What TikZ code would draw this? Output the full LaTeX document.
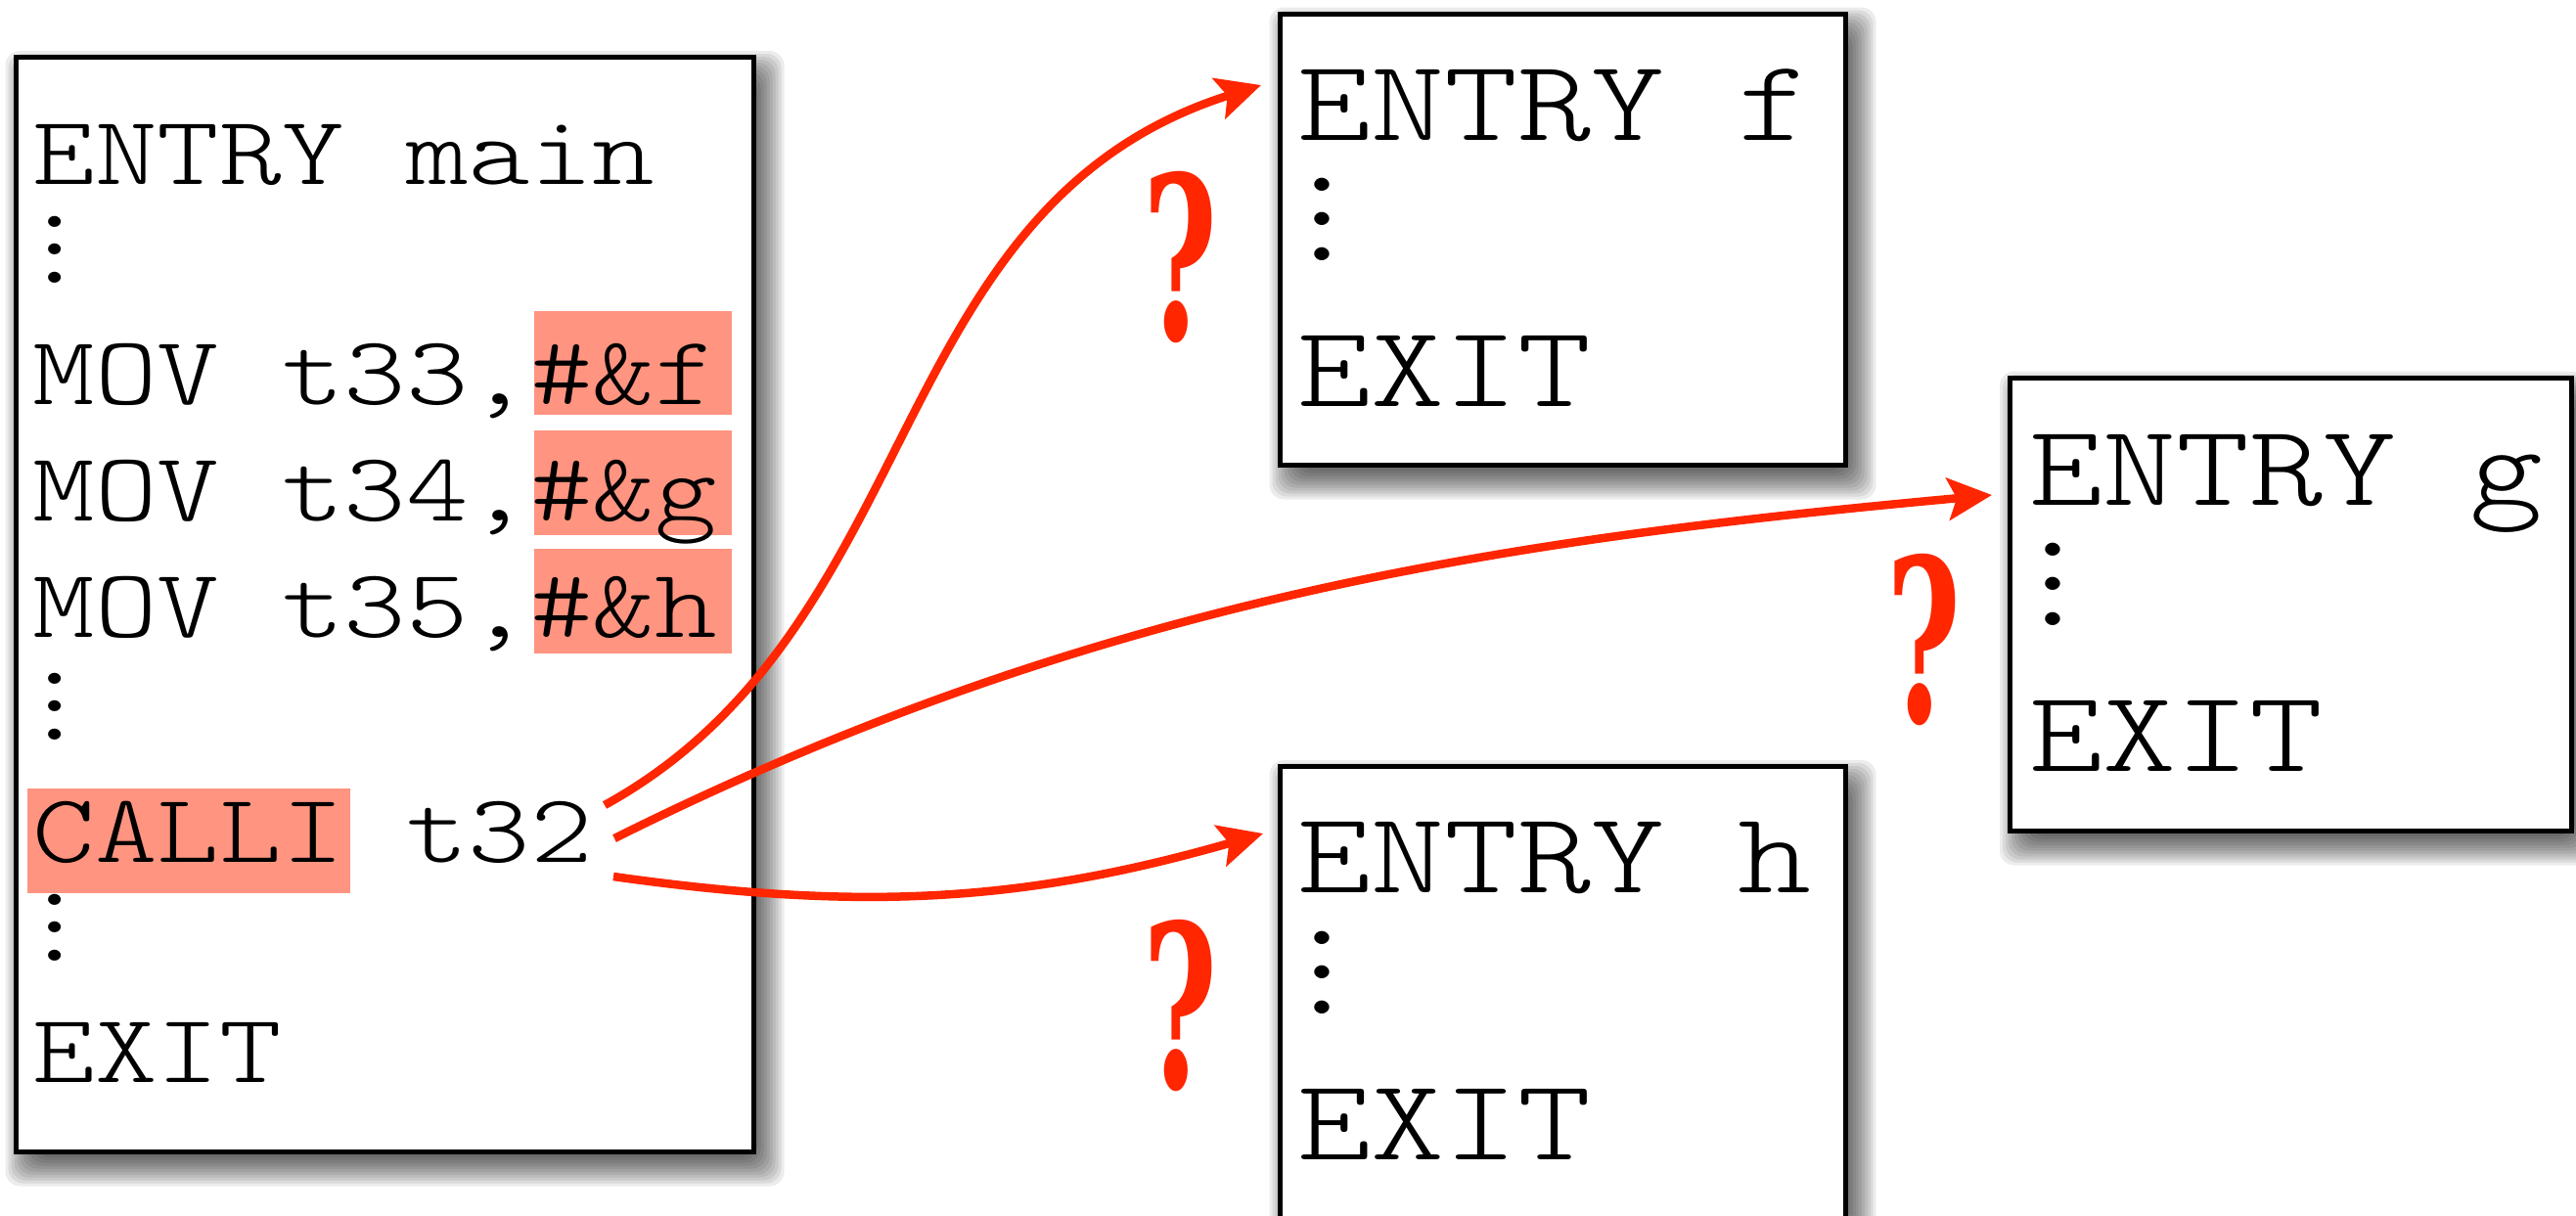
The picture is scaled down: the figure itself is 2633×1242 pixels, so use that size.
\documentclass[tikz,border=0pt]{standalone}
\usepackage{fontspec}
\newfontfamily\qfont{DejaVu Serif}
\usetikzlibrary{arrows.meta}
\definecolor{arrowred}{RGB}{255,38,0}
\definecolor{hlcol}{RGB}{255,148,128}
\newcommand\codefont[1]{\ttfamily\fontseries{l}\fontsize{#1}{#1}\selectfont}
\tikzset{
  codebox/.style={draw=black, fill=white, line width=0.05cm, inner sep=0pt, outer sep=0pt},
  codemain/.style={font=\codefont{28.45pt}, anchor=base west, inner sep=0pt, xscale=1.21},
  codesmall/.style={font=\codefont{33.57pt}, anchor=base west, inner sep=0pt, xscale=1.21},
  dotsmain/.style={font=\ttfamily\fontsize{28.45pt}{8.11pt}\selectfont, align=center, inner sep=0pt, anchor=center, xscale=1.15},
  dotssmall/.style={font=\ttfamily\fontsize{33.57pt}{10.1pt}\selectfont, align=center, inner sep=0pt, anchor=center, xscale=1.15},
  qmark/.style={font=\qfont\bfseries\fontsize{66pt}{66pt}\selectfont, text=arrowred, inner sep=0pt, xscale=0.56},
  hlbox/.style={fill=hlcol, draw=none},
  callarrow/.style={draw=arrowred, line width=0.085cm, -{Stealth[length=0.45cm, width=0.43cm, inset=0.09cm]}}
}
\newcommand\dropshade[4]{%
  \foreach \e in {-12,-9,-6,-3,0,3,6,9,12,15,18,21}{%
    \fill[black, opacity=0.075, rounded corners=0.15cm]
      ({#1+10-(\e)},{#2+14-(\e)}) rectangle ({#3+10+(\e)},{#4+14+(\e)});
  }%
}
\begin{document}
\begin{tikzpicture}[x=0.01cm, y=-0.01cm]
\clip (0,0) rectangle (2633,1242);
\fill[white] (0,0) rectangle (2633,1242);

% shadows
\dropshade{16.5}{59}{770.5}{1177.5}
\dropshade{1308.5}{14.5}{1886.5}{475.5}
\dropshade{2055}{386.5}{2628}{849.5}
\dropshade{1308.5}{784}{1886.5}{1245}

% boxes
\node[codebox, minimum width=7.54cm, minimum height=11.185cm] (mainbox) at (393.5,618.25) {};
\node[codebox, minimum width=5.78cm, minimum height=4.61cm] (fbox) at (1597.5,245) {};
\node[codebox, minimum width=5.73cm, minimum height=4.63cm] (gbox) at (2341.5,618) {};
\node[codebox, minimum width=5.78cm, minimum height=4.61cm] (hbox) at (1597.5,1014.5) {};

% highlights
\fill[hlbox] (546,318) rectangle (748,424);
\fill[hlbox] (546,440) rectangle (748,547);
\fill[hlbox] (546,561) rectangle (748,668);
\fill[hlbox] (28,806) rectangle (358,913);

% main text
\node[codemain] (l1) at (33,188) {ENTRY main};
\node[dotsmain] (d1) at (56,255) {.\\.\\.};
\node[codemain] (l2) at (33,413) {MOV t33,\#\&f};
\node[codemain] (l3) at (33,532) {MOV t34,\#\&g};
\node[codemain] (l4) at (33,651) {MOV t35,\#\&h};
\node[dotsmain] (d2) at (56,722) {.\\.\\.};
\node[codemain] (l5) at (33,881) {CALLI t32};
\node[dotsmain] (d3) at (56,948) {.\\.\\.};
\node[codemain] (l6) at (33,1106) {EXIT};

% f
\node[codesmall] (f1) at (1326,143) {ENTRY f};
\node[dotssmall] (fd) at (1351,224) {.\\.\\.};
\node[codesmall] (f2) at (1326,415) {EXIT};
% g
\node[codesmall] (g1) at (2074,516) {ENTRY g};
\node[dotssmall] (gd) at (2098,597) {.\\.\\.};
\node[codesmall] (g2) at (2074,788) {EXIT};
% h
\node[codesmall] (h1) at (1326,912) {ENTRY h};
\node[dotssmall] (hd) at (1351,994) {.\\.\\.};
\node[codesmall] (h2) at (1326,1185) {EXIT};

% question marks
\node[qmark] (qf) at (1207,263.5) {?};
\node[qmark] (qg) at (1966.5,653.5) {?};
\node[qmark] (qh) at (1206.5,1028) {?};

% arrows
\coordinate (s1) at (618,823);
\coordinate (s2) at (628,857);
\coordinate (s3) at (627,896);
\coordinate (e1) at (1289,87);
\coordinate (e2) at (2036,506);
\coordinate (e3) at (1291,852);
\draw[callarrow] (s1) .. controls (950,640) and (900,210) .. (e1);
\draw[callarrow] (s2) .. controls (1129,607) and (1558,550) .. (e2);
\draw[callarrow] (s3) .. controls (874.5,930.75) and (1041,924) .. (e3);
\end{tikzpicture}
\end{document}
